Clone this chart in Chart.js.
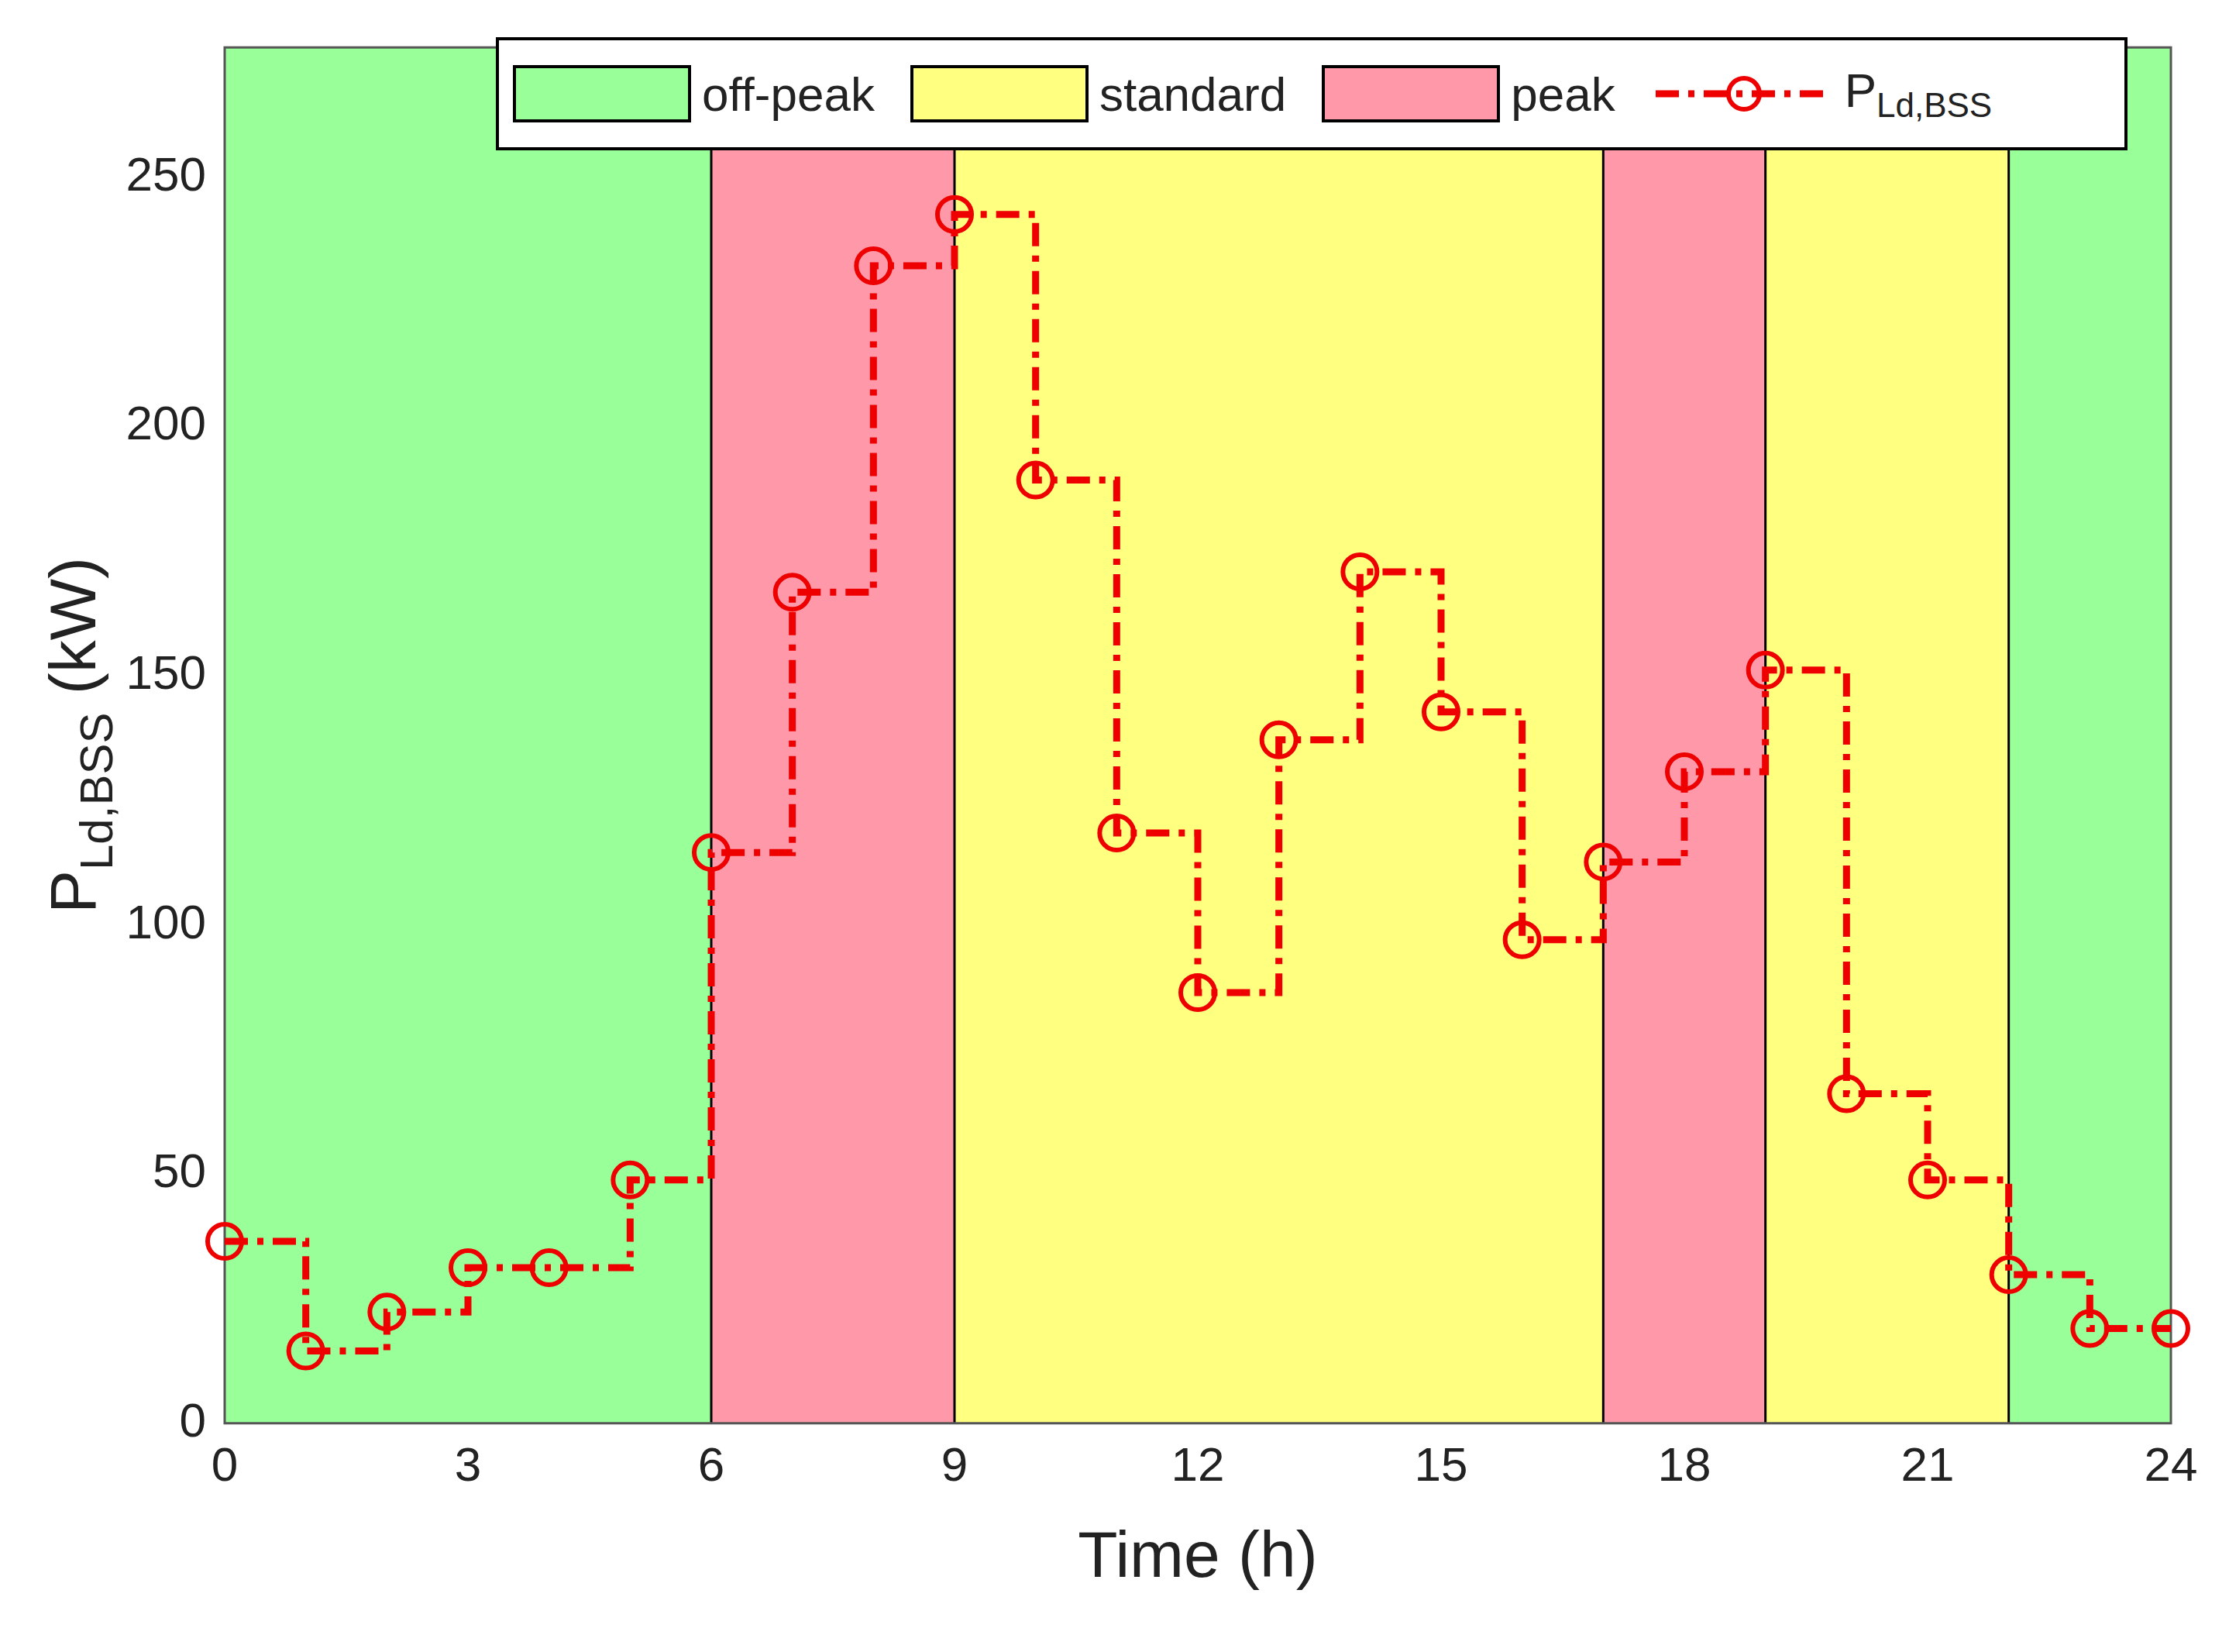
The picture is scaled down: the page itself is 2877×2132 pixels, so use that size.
<!DOCTYPE html>
<html>
<head>
<meta charset="utf-8">
<script src="https://cdn.jsdelivr.net/npm/chart.js@4"></script>
<style>
  body { margin: 0; background: #fff; }
  #wrap { position: relative; width: 2877px; height: 2132px; }
  #legend {
    position: absolute; left: 640px; top: 48px; width: 2106px; height: 146px;
    border: 4px solid #000; background: #fff; box-sizing: border-box;
    font-family: "Liberation Sans", Arial, sans-serif; font-size: 62px; color: #222;
    display: flex; align-items: center; padding-left: 18px;
  }
  .sw { width: 230px; height: 74px; border: 4px solid #000; box-sizing: border-box; margin-right: 14px; }
  .item { display: flex; align-items: center; margin-right: 46px; }
  sub { font-size: 44px; }
</style>
</head>
<body>
<div id="wrap">
  <canvas id="c" width="2877" height="2132"></canvas>
  <div id="legend">
    <div class="item"><div class="sw" style="background:#99ff99"></div>off-peak</div>
    <div class="item"><div class="sw" style="background:#ffff80"></div>standard</div>
    <div class="item"><div class="sw" style="background:#ff99aa"></div>peak</div>
    <div class="item" style="margin-right:0">
      <svg width="240" height="60"><line x1="6" y1="30" x2="234" y2="30" stroke="#ee0000" stroke-width="9" stroke-dasharray="30,12,8,12"/><circle cx="120" cy="30" r="20" fill="none" stroke="#ee0000" stroke-width="6"/></svg>
      <span style="margin-left:10px">P<sub>Ld,BSS</sub></span>
    </div>
  </div>
</div>
<script>
const hours = [0,1,2,3,4,5,6,7,8,9,10,11,12,13,14,15,16,17,18,19,20,21,22,23,24];
const loadBSS = [36.5,14.5,22.3,31.2,31.2,48.8,114.5,166.7,232.2,242.5,189.2,118.4,86.4,137.1,170.8,142.7,97.0,112.6,130.7,151.1,66.1,48.8,29.8,19.0,19.0];
const bandEdges = [0,6,9,17,19,22,24];
const bandColors = ['#99ff99','#ff99aa','#ffff80','#ff99aa','#ffff80','#99ff99'];
const xTicks = [0,3,6,9,12,15,18,21,24];
const yTicks = [0,50,100,150,200,250];

const bands = {
  id: 'bands',
  beforeDatasetsDraw(chart) {
    const {ctx, chartArea: a, scales: {x}} = chart;
    ctx.save();
    for (let i = 0; i < bandColors.length; i++) {
      const x0 = x.getPixelForValue(bandEdges[i]);
      const x1 = x.getPixelForValue(bandEdges[i + 1]);
      ctx.fillStyle = bandColors[i];
      ctx.fillRect(x0, a.top, x1 - x0, a.bottom - a.top);
    }
    ctx.strokeStyle = '#000';
    ctx.lineWidth = 3;
    for (let i = 1; i < bandEdges.length - 1; i++) {
      const px = x.getPixelForValue(bandEdges[i]);
      ctx.beginPath(); ctx.moveTo(px, a.top); ctx.lineTo(px, a.bottom); ctx.stroke();
    }
    ctx.strokeStyle = '#555';
    ctx.strokeRect(a.left, a.top, a.right - a.left, a.bottom - a.top);
    // y title with subscript
    ctx.translate(95, (a.top + a.bottom) / 2);
    ctx.rotate(-Math.PI / 2);
    ctx.fillStyle = '#222';
    const f1 = '84px "Liberation Sans", Arial, sans-serif';
    const f2 = '60px "Liberation Sans", Arial, sans-serif';
    ctx.font = f1; const w1 = ctx.measureText('P').width;
    ctx.font = f2; const w2 = ctx.measureText('Ld,BSS').width;
    ctx.font = f1; const w3 = ctx.measureText(' (kW)').width;
    let sx = -(w1 + w2 + w3) / 2;
    ctx.font = f1; ctx.fillText('P', sx, 28); sx += w1;
    ctx.font = f2; ctx.fillText('Ld,BSS', sx, 50); sx += w2;
    ctx.font = f1; ctx.fillText(' (kW)', sx, 28);
    ctx.restore();
  }
};

new Chart(document.getElementById('c'), {
  type: 'line',
  data: {
    labels: hours,
    datasets: [{
      data: hours.map((h, i) => ({x: h, y: loadBSS[i]})),
      stepped: true,
      borderColor: '#ee0000',
      borderWidth: 9,
      borderDash: [30, 12, 8, 12],
      pointRadius: 22,
      pointBorderWidth: 6,
      pointBackgroundColor: 'rgba(0,0,0,0)',
      pointBorderColor: '#ee0000',
      fill: false
    }]
  },
  options: {
    responsive: false,
    animation: false,
    clip: false,
    layout: { padding: { top: 0, right: 75, left: 0, bottom: 40 } },
    plugins: { legend: { display: false }, tooltip: { enabled: false } },
    scales: {
      x: {
        type: 'linear', min: 0, max: 24,
        afterBuildTicks: s => { s.ticks = xTicks.map(v => ({value: v})); },
        grid: { display: false, tickLength: 0 },
        border: { display: false },
        ticks: { color: '#222', font: { size: 62, family: '"Liberation Sans", Arial, sans-serif' }, padding: 20, maxRotation: 0 },
        title: { display: true, text: 'Time (h)', color: '#222', font: { size: 84, family: '"Liberation Sans", Arial, sans-serif' }, padding: { top: 10, bottom: 30 } }
      },
      y: {
        min: 0, max: 276,
        afterBuildTicks: s => { s.ticks = yTicks.map(v => ({value: v})); },
        afterFit: s => { s.width = 290; },
        grid: { display: false, tickLength: 0 },
        border: { display: false },
        ticks: { color: '#222', font: { size: 62, family: '"Liberation Sans", Arial, sans-serif' }, padding: 24 }
      }
    }
  },
  plugins: [bands]
});
</script>
</body>
</html>
